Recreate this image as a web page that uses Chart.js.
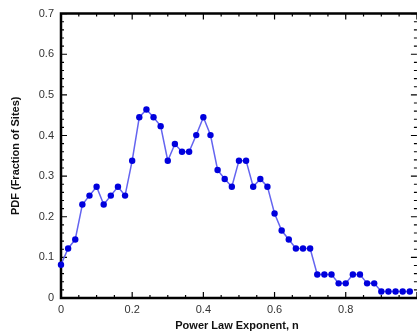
<!DOCTYPE html>
<html>
<head>
<meta charset="utf-8">
<script src="https://cdn.jsdelivr.net/npm/chart.js@4.4.0/dist/chart.umd.min.js"></script>
<style>
    html, body { margin: 0; padding: 0; background: #fff; }
    #pdfChart { display: block; }
</style>
</head>
<body>
<canvas id="pdfChart" width="417" height="335"></canvas>
<script>
"use strict";

// Power law exponent bins (step 0.02)
const exponents = [
    0.00, 0.02, 0.04, 0.06, 0.08, 0.10, 0.12, 0.14, 0.16, 0.18,
    0.20, 0.22, 0.24, 0.26, 0.28, 0.30, 0.32, 0.34, 0.36, 0.38,
    0.40, 0.42, 0.44, 0.46, 0.48, 0.50, 0.52, 0.54, 0.56, 0.58,
    0.60, 0.62, 0.64, 0.66, 0.68, 0.70, 0.72, 0.74, 0.76, 0.78,
    0.80, 0.82, 0.84, 0.86, 0.88, 0.90, 0.92, 0.94, 0.96, 0.98
];

// Fraction of sites in each bin
const pdfValues = [
    0.082, 0.122, 0.144, 0.230, 0.252, 0.274, 0.230, 0.252, 0.274, 0.252,
    0.338, 0.445, 0.464, 0.445, 0.423, 0.338, 0.379, 0.360, 0.360, 0.401,
    0.445, 0.401, 0.315, 0.293, 0.274, 0.338, 0.338, 0.274, 0.293, 0.274,
    0.208, 0.166, 0.144, 0.122, 0.122, 0.122, 0.058, 0.058, 0.058, 0.036,
    0.036, 0.058, 0.058, 0.036, 0.036, 0.016, 0.016, 0.016, 0.016, 0.016
];

// Tick labels
const xTickValues = [0, 0.2, 0.4, 0.6, 0.8];
const xTickLabels = ['0', '0.2', '0.4', '0.6', '0.8'];
const yTickValues = [0, 0.1, 0.2, 0.3, 0.4, 0.5, 0.6, 0.7];
const yTickLabels = ['0', '0.1', '0.2', '0.3', '0.4', '0.5', '0.6', '0.7'];

// Frame with inward ticks, drawn under the points
const framePlugin = {
    id: 'frame',
    beforeDatasetsDraw(chart) {
        const ctx = chart.ctx;
        const xs = chart.scales.x;
        const ys = chart.scales.y;
        const left = chart.chartArea.left;
        const top = chart.chartArea.top;
        const bottom = chart.chartArea.bottom;
        const right = xs.getPixelForValue(1.0);

        ctx.save();
        ctx.strokeStyle = '#000';

        // ticks
        ctx.lineWidth = 1.2;
        ctx.beginPath();
        for (let i = 0; i <= 20; i++) {
            const px = xs.getPixelForValue(i * 0.05);
            const len = (i % 4 === 0) ? 6 : 3;
            ctx.moveTo(px, bottom);
            ctx.lineTo(px, bottom - len);
            ctx.moveTo(px, top);
            ctx.lineTo(px, top + len);
        }
        for (let j = 0; j <= 35; j++) {
            const py = ys.getPixelForValue(j * 0.02);
            const len = (j % 5 === 0) ? 6 : 3;
            ctx.moveTo(left, py);
            ctx.lineTo(left + len, py);
            ctx.moveTo(right, py);
            ctx.lineTo(right - len, py);
        }
        ctx.stroke();

        // axis lines
        ctx.lineWidth = 2.5;
        ctx.beginPath();
        ctx.moveTo(right + 2, top);
        ctx.lineTo(left, top);
        ctx.lineTo(left, bottom);
        ctx.lineTo(right + 2, bottom);
        ctx.stroke();
        ctx.restore();
    }
};

document.addEventListener('DOMContentLoaded', function() {
    const ctx = document.getElementById('pdfChart');

    new Chart(ctx, {
        type: 'line',
        data: {
            datasets: [{
                label: 'PDF',
                data: exponents.map((x, i) => ({ x: x, y: pdfValues[i] })),
                borderColor: '#6464f0',
                borderWidth: 1.5,
                pointRadius: 3.2,
                pointBorderWidth: 0,
                pointBackgroundColor: '#0000dd',
                pointBorderColor: '#0000dd',
                tension: 0,
                clip: false
            }]
        },
        options: {
            responsive: false,
            animation: false,
            layout: { padding: { top: 12, right: 0, left: 0, bottom: 0 } },
            plugins: {
                legend: { display: false },
                tooltip: { enabled: false }
            },
            scales: {
                x: {
                    type: 'linear',
                    min: 0,
                    max: 0.989,
                    afterFit: function(scale) { scale.height = 37; },
                    afterBuildTicks: function(scale) {
                        scale.ticks = xTickValues.map(v => ({ value: v }));
                    },
                    grid: { display: false, drawTicks: false },
                    border: { display: false },
                    ticks: {
                        padding: 5,
                        maxRotation: 0,
                        color: '#333',
                        font: { family: 'Liberation Sans, Arial', size: 11 },
                        callback: function(value, index) { return xTickLabels[index]; }
                    },
                    title: {
                        display: true,
                        text: 'Power Law Exponent, n',
                        color: '#111',
                        padding: { top: 0, bottom: 2 },
                        font: { family: 'Liberation Sans, Arial', size: 11, weight: 'bold' }
                    }
                },
                y: {
                    min: 0,
                    max: 0.7,
                    afterFit: function(scale) { scale.width = 61; },
                    afterBuildTicks: function(scale) {
                        scale.ticks = yTickValues.map(v => ({ value: v }));
                    },
                    grid: { display: false, drawTicks: false },
                    border: { display: false },
                    ticks: {
                        padding: 7,
                        color: '#333',
                        font: { family: 'Liberation Sans, Arial', size: 11 },
                        callback: function(value, index) { return yTickLabels[index]; }
                    },
                    title: {
                        display: true,
                        text: 'PDF (Fraction of Sites)',
                        color: '#111',
                        padding: { top: 9, bottom: 0 },
                        font: { family: 'Liberation Sans, Arial', size: 11, weight: 'bold' }
                    }
                }
            }
        },
        plugins: [framePlugin]
    });
});
</script>
</body>
</html>
